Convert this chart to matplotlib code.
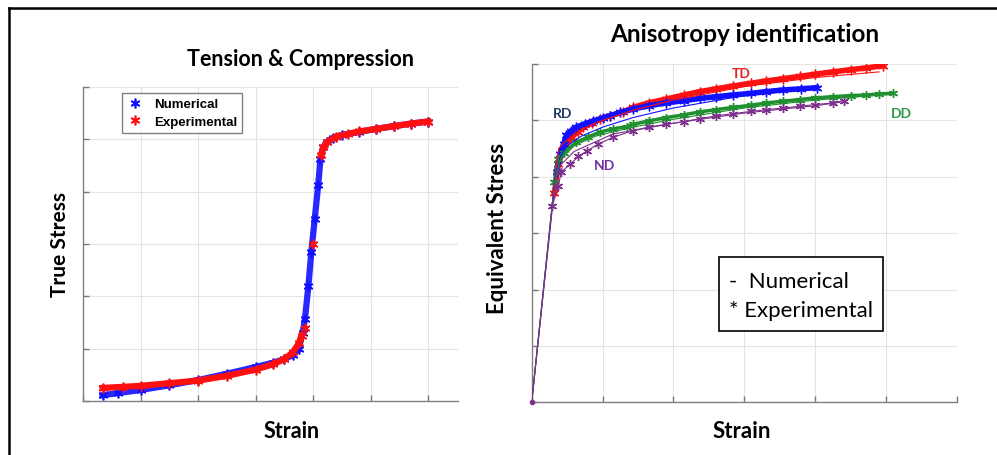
import matplotlib
matplotlib.use("Agg")
import matplotlib.pyplot as plt
from matplotlib.lines import Line2D
from matplotlib.patches import Rectangle

W, H = 997, 456

# ---- Tension & Compression (grid units, no tick labels in original) ----
tc_num_strain = [0.34, 0.6, 1.0, 1.5, 2.0, 2.5, 3.0, 3.3, 3.5, 3.65, 3.75, 3.82, 3.86, 3.92,
                 3.97, 4.03, 4.09, 4.13, 4.18, 4.24, 4.35, 4.5, 4.8, 5.1, 5.4, 5.7, 6.0]
tc_num_stress = [0.11, 0.15, 0.21, 0.3, 0.4, 0.52, 0.65, 0.73, 0.8, 0.88, 1.0, 1.3, 1.57, 2.2,
                 2.84, 3.48, 4.12, 4.63, 4.85, 4.95, 5.03, 5.08, 5.14, 5.2, 5.25, 5.3, 5.34]

tc_exp_low_strain = [0.34, 0.7, 1.0, 1.5, 2.0, 2.5, 3.0, 3.3, 3.5, 3.65, 3.75, 3.8]
tc_exp_low_stress = [0.25, 0.27, 0.29, 0.34, 0.39, 0.48, 0.6, 0.7, 0.8, 0.93, 1.1, 1.25]
tc_exp_jump_strain = [3.86, 4.0]
tc_exp_jump_stress = [1.4, 3.0]
tc_exp_high_strain = [4.14, 4.18, 4.25, 4.4, 4.6, 4.8, 5.1, 5.4, 5.7, 6.0]
tc_exp_high_stress = [4.7, 4.85, 4.95, 5.05, 5.1, 5.15, 5.2, 5.25, 5.3, 5.34]

# ---- Anisotropy identification ----
rd_exp_x = [0.35, 0.40, 0.45, 0.49, 0.56, 0.63, 0.75, 0.87, 1.0, 1.10, 1.25, 1.43, 1.65, 1.90,
            2.15, 2.37, 2.6, 2.84, 3.1, 3.31, 3.55, 3.8, 4.02]
rd_exp_y = [4.09, 4.40, 4.58, 4.74, 4.82, 4.88, 4.94, 4.99, 5.04, 5.08, 5.14, 5.20, 5.26, 5.31,
            5.35, 5.39, 5.42, 5.45, 5.48, 5.51, 5.54, 5.56, 5.58]
td_exp_x = [0.32, 0.375, 0.45, 0.56, 0.65, 0.73, 0.85, 0.96, 1.1, 1.29, 1.43, 1.65, 1.90, 2.15,
            2.37, 2.6, 2.84, 3.1, 3.31, 3.55, 3.78, 4.0, 4.25, 4.5, 4.72, 4.96]
td_exp_y = [3.71, 4.22, 4.49, 4.70, 4.80, 4.88, 4.95, 5.02, 5.08, 5.15, 5.23, 5.31, 5.38, 5.45,
            5.51, 5.56, 5.61, 5.66, 5.70, 5.74, 5.78, 5.82, 5.86, 5.90, 5.93, 5.97]
dd_exp_x = [0.32, 0.375, 0.45, 0.63, 0.8, 0.96, 1.15, 1.34, 1.43, 1.65, 1.90, 2.15, 2.37, 2.6,
            2.84, 3.1, 3.31, 3.55, 3.78, 4.0, 4.25, 4.5, 4.72, 4.9, 5.10]
dd_exp_y = [3.90, 4.31, 4.43, 4.61, 4.71, 4.79, 4.85, 4.89, 4.93, 4.99, 5.05, 5.10, 5.15, 5.19,
            5.23, 5.27, 5.31, 5.34, 5.37, 5.40, 5.42, 5.44, 5.45, 5.47, 5.48]
nd_exp_x = [0.29, 0.375, 0.42, 0.54, 0.66, 0.78, 0.94, 1.15, 1.43, 1.65, 1.90, 2.15, 2.37, 2.6,
            2.84, 3.1, 3.31, 3.55, 3.78, 4.0, 4.25, 4.40]
nd_exp_y = [3.48, 3.84, 4.09, 4.22, 4.36, 4.46, 4.58, 4.70, 4.82, 4.88, 4.93, 4.98, 5.03, 5.08,
            5.12, 5.16, 5.19, 5.22, 5.25, 5.28, 5.31, 5.35]

rd_num_x = [0, 0.33, 0.40, 0.5, 0.7, 1.0, 1.43, 2.0, 3.0, 4.0]
rd_num_y = [0, 4.0, 4.35, 4.55, 4.72, 4.88, 5.05, 5.22, 5.44, 5.57]
td_num_x = [0, 0.33, 0.38, 0.45, 0.6, 0.8, 1.0, 1.43, 2.0, 3.0, 4.0, 4.9]
td_num_y = [0, 4.0, 4.5, 4.6, 4.75, 4.9, 5.0, 5.18, 5.36, 5.6, 5.76, 5.86]
dd_num_x = [0, 0.33, 0.4, 0.6, 0.9, 1.43, 2.0, 3.0, 4.0, 5.05]
dd_num_y = [0, 3.95, 4.3, 4.55, 4.72, 4.88, 5.02, 5.22, 5.36, 5.46]
nd_num_x = [0, 0.33, 0.4, 0.6, 0.9, 1.15, 1.43, 2.0, 3.0, 4.0, 4.35]
nd_num_y = [0, 3.9, 4.2, 4.45, 4.62, 4.76, 4.82, 4.95, 5.13, 5.26, 5.32]

BLUE = "#1010ff"
RED = "#ff1010"
GREEN = "#1f8f2f"
PURPLE = "#7e2f8e"
AST = (6, 2, 0)

fig = plt.figure(figsize=(W / 100, H / 100), dpi=100)
fig.patch.set_facecolor("white")


def px(x, y):
    return x / W, 1 - y / H


def style_axes(ax, xmax):
    ax.set_xlim(0, xmax)
    ax.set_ylim(0, 6)
    ax.set_xticks(range(0, 7))
    ax.set_yticks(range(0, 7))
    ax.set_xticklabels([])
    ax.set_yticklabels([])
    ax.tick_params(direction="in", length=4, width=1, color="#777777")
    ax.grid(True, color="#e4e4e4", lw=0.8)
    ax.set_axisbelow(True)
    for s in ["top", "right"]:
        ax.spines[s].set_visible(False)
    for s in ["left", "bottom"]:
        ax.spines[s].set_color("#808080")
        ax.spines[s].set_linewidth(1.0)


# left panel
ax1 = fig.add_axes([83 / W, 54 / H, 375 / W, 314 / H])
style_axes(ax1, 375 / 57.5)
ax1.plot(tc_num_strain, tc_num_stress, color=BLUE, lw=4.5, alpha=0.9, zorder=3)
ax1.plot(tc_num_strain, tc_num_stress, ls="none", marker=AST, ms=7, mew=1.2, color=BLUE, zorder=3)
for xs, ys in [(tc_exp_low_strain, tc_exp_low_stress), (tc_exp_high_strain, tc_exp_high_stress)]:
    ax1.plot(xs, ys, color=RED, lw=4.5, zorder=4)
for xs, ys in [(tc_exp_low_strain, tc_exp_low_stress), (tc_exp_jump_strain, tc_exp_jump_stress),
               (tc_exp_high_strain, tc_exp_high_stress)]:
    ax1.plot(xs, ys, ls="none", marker=AST, ms=7, mew=1.2, color=RED, zorder=4)

handles = [Line2D([], [], ls="none", marker=AST, ms=7, mew=1.2, color=BLUE),
           Line2D([], [], ls="none", marker=AST, ms=7, mew=1.2, color=RED)]
leg = ax1.legend(handles, ["Numerical", "Experimental"], loc="upper left",
                 bbox_to_anchor=(0.104, 0.981), borderaxespad=0, frameon=True, fancybox=False,
                 handlelength=1.2, handletextpad=0.8, borderpad=0.4, labelspacing=0.4,
                 prop={"family": "Liberation Sans", "weight": "bold", "size": 9.5})
leg.get_frame().set_edgecolor("#606060")
leg.get_frame().set_linewidth(1.0)

# right panel
ax2 = fig.add_axes([531.7 / W, 52.7 / H, 425.3 / W, 338.3 / H])
style_axes(ax2, 6)
ax2.plot(td_exp_x, td_exp_y, color=RED, lw=4, marker=AST, ms=7, mew=1, zorder=3)
ax2.plot(rd_exp_x, rd_exp_y, color=BLUE, lw=4, marker=AST, ms=7, mew=1, zorder=3)
ax2.plot(dd_exp_x, dd_exp_y, color=GREEN, lw=2.5, marker=AST, ms=6.5, mew=1, zorder=3)
ax2.plot(nd_exp_x, nd_exp_y, color=PURPLE, lw=0.8, marker=AST, ms=6.5, mew=1, zorder=3)
ax2.plot(td_num_x, td_num_y, color=RED, lw=0.8, zorder=4)
ax2.plot(rd_num_x, rd_num_y, color=BLUE, lw=0.8, zorder=4)
ax2.plot(dd_num_x, dd_num_y, color=GREEN, lw=0.8, zorder=4)
ax2.plot(nd_num_x, nd_num_y, color=PURPLE, lw=0.8, zorder=4)
ax2.plot([0], [0], ls="none", marker="o", ms=3, color=PURPLE, zorder=5, clip_on=False)

lab = dict(family="Lato", weight="bold", fontsize=10, ha="center", va="center")
ax2.text(0.44, 5.13, "RD", color="#203864", **lab)
ax2.text(2.96, 5.84, "TD", color="#e82020", **lab)
ax2.text(5.22, 5.13, "DD", color="#2e9a48", **lab)
ax2.text(1.02, 4.21, "ND", color="#7030a0", **lab)

ax2.add_patch(Rectangle((0.44, 0.2117), 0.385, 0.2169, transform=ax2.transAxes,
                        fill=True, facecolor="white", edgecolor="black", lw=1.2, zorder=6))
ax2.text(0.465, 0.36, "-  Numerical", transform=ax2.transAxes, family="Lato",
         fontsize=16, va="center", ha="left", zorder=7)
ax2.text(0.465, 0.272, "* Experimental", transform=ax2.transAxes, family="Lato",
         fontsize=16, va="center", ha="left", zorder=7)

# titles and axis labels
bold = dict(family="Lato", weight="bold", ha="center", va="center")
fig.text(*px(300, 60), "Tension & Compression", fontsize=15.5, **bold)
fig.text(*px(745, 35), "Anisotropy identification", fontsize=17.5, **bold)
fig.text(*px(292, 432), "Strain", fontsize=15.5, **bold)
fig.text(*px(742, 432), "Strain", fontsize=16, **bold)
fig.text(*px(60, 245), "True Stress", fontsize=15, rotation=90, **bold)
fig.text(*px(497, 228), "Equivalent Stress", fontsize=16, rotation=90, **bold)

# outer frame (only left and top edges visible)
fig.add_artist(Line2D([9 / W, 9 / W], [0, 1 - 9 / H], transform=fig.transFigure, color="black", lw=1.8))
fig.add_artist(Line2D([9 / W, 1], [1 - 9 / H, 1 - 9 / H], transform=fig.transFigure, color="black", lw=1.8))

fig.savefig("out.png", dpi=100, facecolor="white")
